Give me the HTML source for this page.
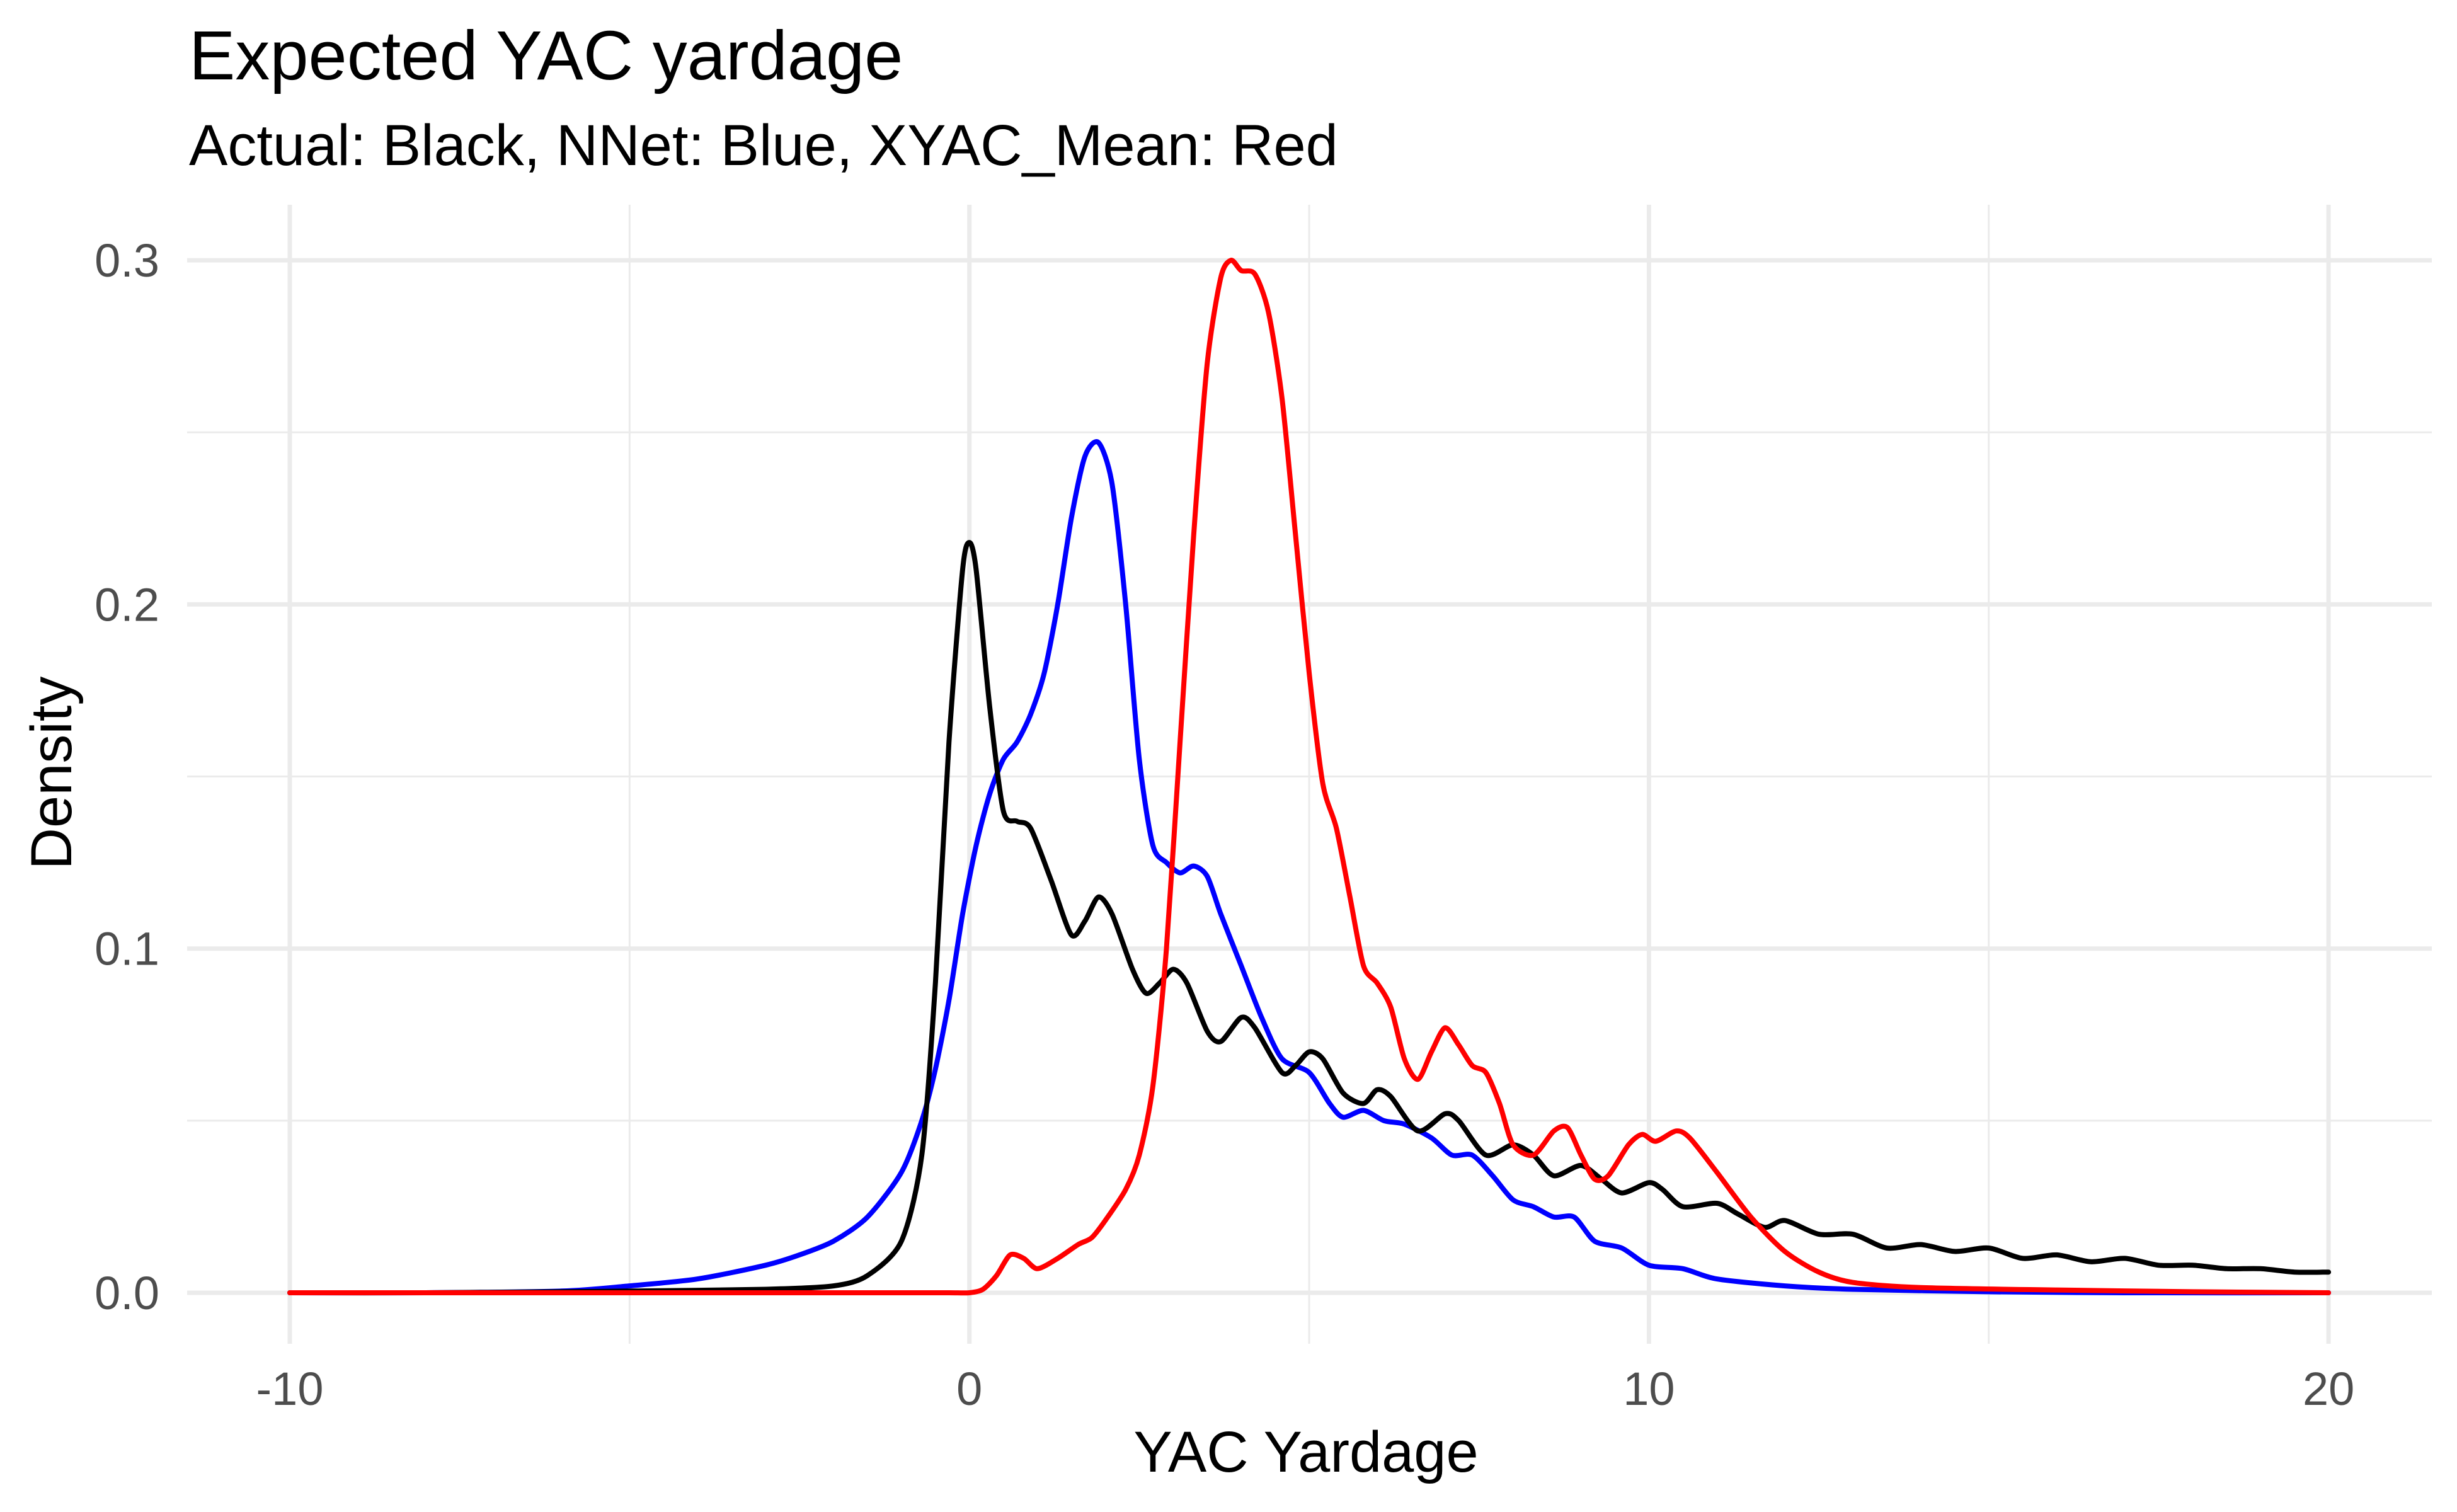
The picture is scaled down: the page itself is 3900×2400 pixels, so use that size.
<!DOCTYPE html>
<html><head><meta charset="utf-8"><style>
html,body{margin:0;padding:0;background:#fff;}
svg{display:block;font-family:"Liberation Sans",Arial,sans-serif;}
</style></head><body>
<svg id="chart" width="3900" height="2400" viewBox="0 0 3900 2400" xmlns="http://www.w3.org/2000/svg">
<rect width="3900" height="2400" fill="#fff"/>
<text x="300" y="126" font-size="110" fill="#000">Expected YAC yardage</text>
<text x="300" y="262" font-size="92" fill="#000">Actual: Black, NNet: Blue, XYAC_Mean: Red</text>
<g id="grid"></g>
<g id="series"></g>
<g id="axes"></g>
<text x="2073" y="2336" font-size="92" text-anchor="middle" fill="#000">YAC Yardage</text>
<text transform="translate(113,1227) rotate(-90)" font-size="92" text-anchor="middle" fill="#000">Density</text>
</svg>
<script>
const xTicks=[-10,0,10,20];
const xMinor=[-5,5,15];
const yTicks=[0,0.1,0.2,0.3];
const yTickLabels=["0.0","0.1","0.2","0.3"];
const yMinor=[0.05,0.15,0.25];
const actualX=[-10,-8,-6,-5,-3,-2,-1.5,-1,-0.7,-0.5,-0.3,-0.1,0,0.1,0.3,0.5,0.7,0.9,1.2,1.5,1.7,1.9,2.1,2.4,2.6,2.8,3.0,3.2,3.5,3.7,4.0,4.2,4.6,4.8,5.0,5.2,5.5,5.8,6.0,6.2,6.6,7.0,7.2,7.6,8.0,8.3,8.6,9.0,9.3,9.6,10.0,10.2,10.5,11,11.3,11.7,12,12.5,13,13.5,14,14.5,15,15.5,16,16.5,17,17.5,18,18.5,19,19.5,20];
const actualY=[0,0,0.0003,0.0005,0.001,0.002,0.005,0.015,0.04,0.09,0.16,0.21,0.218,0.21,0.17,0.14,0.137,0.135,0.12,0.104,0.108,0.115,0.11,0.094,0.087,0.09,0.094,0.09,0.076,0.073,0.08,0.077,0.064,0.066,0.07,0.068,0.058,0.055,0.059,0.057,0.047,0.052,0.05,0.04,0.043,0.04,0.034,0.037,0.033,0.029,0.032,0.03,0.025,0.026,0.023,0.019,0.021,0.017,0.017,0.013,0.014,0.012,0.013,0.01,0.011,0.009,0.01,0.008,0.008,0.007,0.007,0.006,0.006];
const nnetX=[-10,-8,-6,-5,-4,-3,-2.5,-2,-1.5,-1,-0.7,-0.5,-0.3,-0.1,0.1,0.3,0.5,0.7,0.9,1.1,1.3,1.5,1.7,1.9,2.1,2.3,2.5,2.7,2.9,3.1,3.3,3.5,3.7,4.0,4.3,4.6,5.0,5.3,5.5,5.8,6.1,6.4,6.8,7.1,7.4,7.7,8.0,8.3,8.6,8.9,9.2,9.6,10,10.5,11,12,13,15,17,20];
const nnetY=[0,0,0.0005,0.002,0.004,0.008,0.011,0.015,0.022,0.035,0.05,0.065,0.085,0.11,0.13,0.145,0.155,0.16,0.168,0.18,0.2,0.225,0.243,0.247,0.235,0.2,0.155,0.13,0.125,0.122,0.124,0.121,0.11,0.095,0.08,0.068,0.064,0.055,0.051,0.053,0.05,0.049,0.045,0.04,0.04,0.034,0.027,0.025,0.022,0.022,0.015,0.013,0.008,0.007,0.004,0.002,0.001,0.0003,0,0];
const xyacX=[-10,-7,-4,-2,-1,-0.3,0,0.2,0.4,0.6,0.8,1.0,1.3,1.6,1.8,2.0,2.3,2.5,2.7,2.9,3.1,3.3,3.5,3.7,3.85,4.0,4.2,4.4,4.6,4.8,5.0,5.2,5.4,5.6,5.8,6.0,6.2,6.4,6.6,6.8,7.0,7.2,7.4,7.6,7.8,8.0,8.3,8.6,8.8,9.0,9.2,9.4,9.7,9.9,10.1,10.4,10.6,11,11.5,12,12.5,13,14,16,18,20];
const xyacY=[0,0,0,0,0,0,0,0.001,0.005,0.011,0.01,0.007,0.01,0.014,0.016,0.021,0.03,0.04,0.06,0.1,0.16,0.22,0.27,0.295,0.3,0.297,0.296,0.285,0.26,0.22,0.18,0.148,0.135,0.115,0.095,0.09,0.083,0.068,0.062,0.07,0.077,0.072,0.066,0.064,0.055,0.043,0.04,0.047,0.048,0.04,0.033,0.034,0.043,0.046,0.044,0.047,0.045,0.035,0.022,0.012,0.006,0.003,0.0015,0.0008,0.0003,0];

const X0=297,X1=3860,Y0=325,Y1=2133;
const sx=v=>1538.7+107.87*v;
const sy=v=>2052-5463*v;
const NS="http://www.w3.org/2000/svg";
function mk(tag,parent,attrs){const e=document.createElementNS(NS,tag);for(const k in attrs)e.setAttribute(k,attrs[k]);parent.appendChild(e);return e;}
const grid=document.getElementById('grid');
yMinor.forEach(v=>{const l=mk('line',grid,{x1:X0,x2:X1,y1:sy(v),y2:sy(v),stroke:'#ebebeb','stroke-width':3});

});
xMinor.forEach(v=>{const l=mk('line',grid,{x1:sx(v),x2:sx(v),y1:Y0,y2:Y1,stroke:'#ebebeb','stroke-width':3});

});
yTicks.forEach(v=>{const l=mk('line',grid,{x1:X0,x2:X1,y1:sy(v),y2:sy(v),stroke:'#ebebeb','stroke-width':7});

});
xTicks.forEach(v=>{const l=mk('line',grid,{x1:sx(v),x2:sx(v),y1:Y0,y2:Y1,stroke:'#ebebeb','stroke-width':7});

});
const axes=document.getElementById('axes');
yTicks.forEach((v,i)=>{const t=mk('text',axes,{x:253,y:sy(v)+26,'font-size':74,'text-anchor':'end',fill:'#4d4d4d'});t.textContent=yTickLabels[i];

});
xTicks.forEach(v=>{const t=mk('text',axes,{x:sx(v),y:2230,'font-size':74,'text-anchor':'middle',fill:'#4d4d4d'});t.textContent=String(v);

});
const ser=document.getElementById('series');
function line(xs,ys,color,name){
const P=xs.map((x,i)=>[sx(x),sy(ys[i])]);
let d='M'+P[0][0].toFixed(1)+','+P[0][1].toFixed(1);
const k=1/6*0.8;
for(let i=0;i<P.length-1;i++){
const p0=P[Math.max(i-1,0)],p1=P[i],p2=P[i+1],p3=P[Math.min(i+2,P.length-1)];
const c1=[p1[0]+(p2[0]-p0[0])*k,p1[1]+(p2[1]-p0[1])*k];
const c2=[p2[0]-(p3[0]-p1[0])*k,p2[1]-(p3[1]-p1[1])*k];
d+='C'+c1[0].toFixed(1)+','+c1[1].toFixed(1)+' '+c2[0].toFixed(1)+','+c2[1].toFixed(1)+' '+p2[0].toFixed(1)+','+p2[1].toFixed(1);}
const p=mk('path',ser,{d:d,fill:'none',stroke:color,'stroke-width':8,'stroke-linejoin':'round','stroke-linecap':'round'});

}
line(nnetX,nnetY,'#0000ff','nnet-density-line');
line(actualX,actualY,'#000000','actual-density-line');
line(xyacX,xyacY,'#ff0000','xyac-mean-density-line');
</script>
</body></html>
